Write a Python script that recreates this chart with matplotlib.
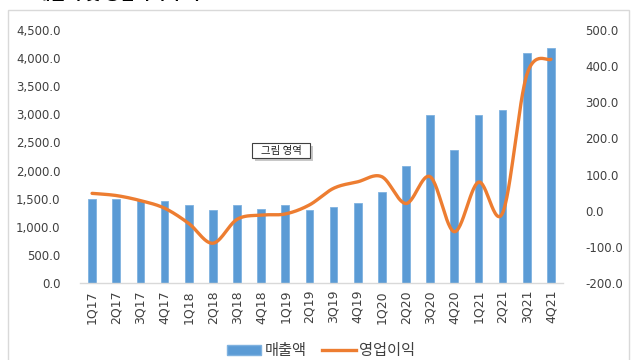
import numpy as np
import matplotlib
matplotlib.use("Agg")
import matplotlib.pyplot as plt
from matplotlib.patches import Rectangle
from matplotlib.lines import Line2D
from matplotlib.ticker import FuncFormatter

plt.rcParams['font.family'] = ['Noto Sans CJK KR', 'DejaVu Sans']

quarters = ['1Q17', '2Q17', '3Q17', '4Q17', '1Q18', '2Q18', '3Q18', '4Q18',
            '1Q19', '2Q19', '3Q19', '4Q19', '1Q20', '2Q20', '3Q20', '4Q20',
            '1Q21', '2Q21', '3Q21', '4Q21']
sales = [1490, 1490, 1480, 1460, 1390, 1290, 1390, 1310, 1390, 1290,
         1360, 1420, 1625, 2080, 2990, 2365, 2990, 3070, 4085, 4175]
op_income = [48, 42, 28, 7, -35, -90, -24, -12, -9, 16,
             62, 80, 94, 20, 94, -58, 79, -6, 376, 419]

title_text = '매출액 및 영업이익 추이'
sales_label = '매출액'
op_label = '영업이익'
tooltip_text = '그림 영역'

bar_color = '#5B9BD5'
line_color = '#ED7D31'


def smooth(xv, yv, n=30):
    xv = np.asarray(xv, float)
    yv = np.asarray(yv, float)
    px = np.concatenate([[xv[0]], xv, [xv[-1]]])
    py = np.concatenate([[yv[0]], yv, [yv[-1]]])
    ox, oy = [], []
    t = np.linspace(0, 1, n)
    for i in range(1, len(px) - 2):
        p0 = np.array([px[i], py[i]])
        p3 = np.array([px[i + 1], py[i + 1]])
        c1 = p0 + (np.array([px[i + 1], py[i + 1]]) - np.array([px[i - 1], py[i - 1]])) / 6
        c2 = p3 - (np.array([px[i + 2], py[i + 2]]) - np.array([px[i], py[i]])) / 6
        b = ((1 - t) ** 3)[:, None] * p0 + (3 * (1 - t) ** 2 * t)[:, None] * c1 \
            + (3 * (1 - t) * t ** 2)[:, None] * c2 + (t ** 3)[:, None] * p3
        ox.extend(b[:, 0])
        oy.extend(b[:, 1])
    return np.array(ox), np.array(oy)


def fx(px):
    return px / 640


def fy(py):
    return 1 - py / 360


fig = plt.figure(figsize=(6.4, 3.6), dpi=100)
ax = fig.add_axes([fx(80), fy(283), fx(563 - 80), (283 - 30) / 360])
x = np.arange(len(quarters))
ax.bar(x, sales, width=0.32, color=bar_color, edgecolor='#7FB2E0', linewidth=0.6, zorder=2)
ax.set_xlim(-0.5, len(quarters) - 0.5)
ax.set_ylim(0, 4500)
ax.set_yticks(np.arange(0, 4501, 500))
ax.yaxis.set_major_formatter(FuncFormatter(lambda v, p: f'{v:,.1f}'))
ax.set_xticks(x)
ax.set_xticklabels(quarters, rotation=90, fontsize=9, color='#404040', family='DejaVu Sans')
for s in ['top', 'left', 'right']:
    ax.spines[s].set_visible(False)
ax.spines['bottom'].set_color('#D9D9D9')
ax.spines['bottom'].set_linewidth(1)
ax.tick_params(axis='both', length=0, colors='#404040')
ax.tick_params(axis='y', pad=14, labelsize=8.5)
ax.tick_params(axis='x', pad=5, labelsize=9)
for lab in ax.get_yticklabels():
    lab.set_family('DejaVu Sans')

ax2 = ax.twinx()
sx, sy = smooth(x, op_income)
ax2.plot(sx, sy, color=line_color, linewidth=2.4, solid_capstyle='round', zorder=3)
ax2.set_ylim(-200, 500)
ax2.set_yticks(np.arange(-200, 501, 100))
ax2.yaxis.set_major_formatter(FuncFormatter(lambda v, p: f'{v:.1f}'))
for s in ['top', 'left', 'right', 'bottom']:
    ax2.spines[s].set_visible(False)
ax2.tick_params(axis='y', length=0, labelsize=8.5, colors='#404040', pad=16)
for lab in ax2.get_yticklabels():
    lab.set_family('DejaVu Sans')

# chart frame
fig.patches.append(Rectangle((fx(8), -0.05), fx(629 - 8), fy(10) + 0.05,
                             transform=fig.transFigure, fill=False,
                             edgecolor='#D9D9D9', linewidth=1))

# title (mostly cut off at top, as in the reference)
fig.text(fx(35), fy(-0.3), title_text, fontsize=12, fontweight='bold',
         color='black', ha='left', va='baseline')

# tooltip box with shadow
fig.add_artist(Rectangle((fx(255), fy(161)), fx(58), 15 / 360,
                         transform=fig.transFigure, facecolor='#C8C8C8',
                         edgecolor='none', zorder=2))
fig.add_artist(Rectangle((fx(252), fy(158)), fx(58), 15 / 360,
                         transform=fig.transFigure, facecolor='white',
                         edgecolor='#404040', linewidth=0.8, zorder=3))
fig.text(fx(281), fy(150.5), tooltip_text, fontsize=7.5, color='#202020',
         ha='center', va='center', zorder=4)

handles = [Rectangle((0, 0), 1, 1, facecolor=bar_color, edgecolor='#7FB2E0'),
           Line2D([0], [0], color=line_color, linewidth=2.4)]
fig.legend(handles, [sales_label, op_label], loc='center', bbox_to_anchor=(0.502, fy(351)),
           ncol=2, frameon=False, fontsize=11, handlelength=2.2, handleheight=0.55,
           columnspacing=1.0, handletextpad=0.25, labelcolor='#404040')

fig.savefig('out.png', dpi=100)
